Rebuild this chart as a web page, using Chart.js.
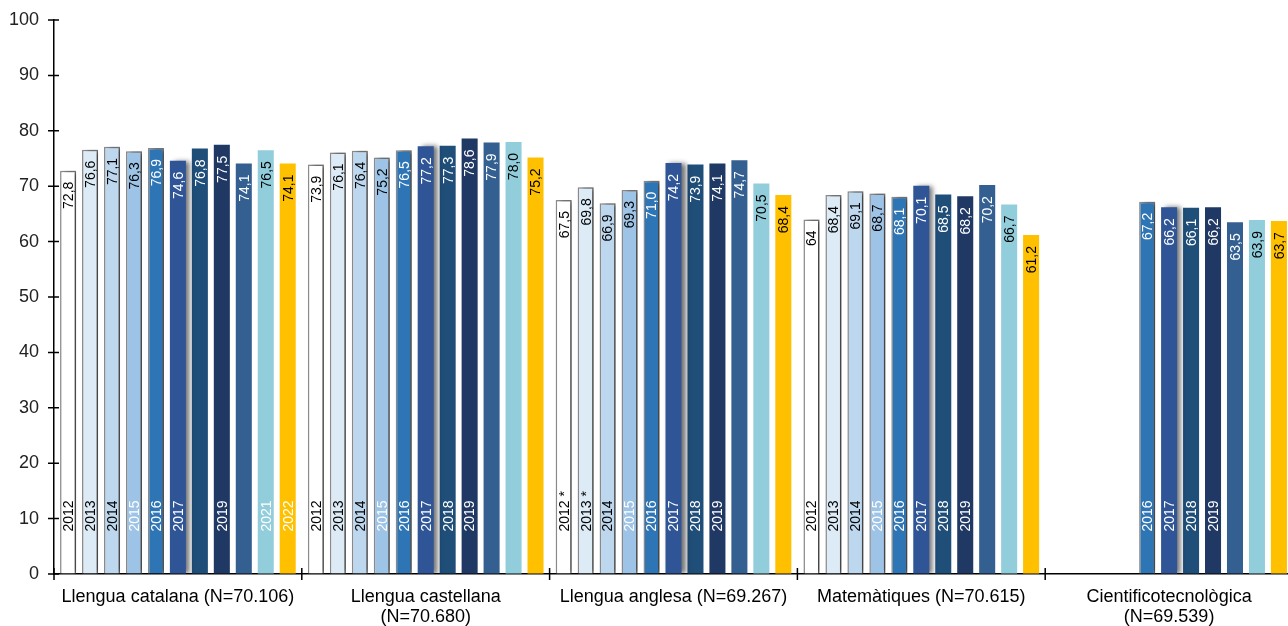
<!DOCTYPE html>
<html>
<head>
<meta charset="utf-8">
<script src="https://cdn.jsdelivr.net/npm/chart.js@4/dist/chart.umd.min.js"></script>
<style>
  html, body { margin: 0; padding: 0; background: #fff; overflow: hidden; }
  #wrap { width: 1293px; height: 626px; position: relative; }
</style>
</head>
<body>
<div id="wrap"><canvas id="c"></canvas></div>
<script>
// ---------- DATA ----------
const categories = [
  'Llengua catalana (N=70.106)',
  ['Llengua castellana', '(N=70.680)'],
  'Llengua anglesa (N=69.267)',
  'Matemàtiques (N=70.615)',
  ['Cientificotecnològica', '(N=69.539)']
];
const years = ['2012', '2013', '2014', '2015', '2016', '2017', '2018', '2019', '2020', '2021', '2022'];

const s2012 = [72.8, 73.9, 67.5, 64, null];
const s2013 = [76.6, 76.1, 69.8, 68.4, null];
const s2014 = [77.1, 76.4, 66.9, 69.1, null];
const s2015 = [76.3, 75.2, 69.3, 68.7, null];
const s2016 = [76.9, 76.5, 71.0, 68.1, 67.2];
const s2017 = [74.6, 77.2, 74.2, 70.1, 66.2];
const s2018 = [76.8, 77.3, 73.9, 68.5, 66.1];
const s2019 = [77.5, 78.6, 74.1, 68.2, 66.2];
const s2020 = [74.1, 77.9, 74.7, 70.2, 63.5];
const s2021 = [76.5, 78.0, 70.5, 66.7, 63.9];
const s2022 = [74.1, 75.2, 68.4, 61.2, 63.7];
const seriesValues = [s2012, s2013, s2014, s2015, s2016, s2017, s2018, s2019, s2020, s2021, s2022];

// year captions written at the foot of the bars, per category
const yearCaptions = [
  ['2012', '2013', '2014', '2015', '2016', '2017', '', '2019', '', '2021', '2022'],
  ['2012', '2013', '2014', '2015', '2016', '2017', '2018', '2019', '', '', ''],
  ['2012 *', '2013 *', '2014', '2015', '2016', '2017', '2018', '2019', '', '', ''],
  ['2012', '2013', '2014', '2015', '2016', '2017', '2018', '2019', '', '', ''],
  ['', '', '', '', '2016', '2017', '2018', '2019', '', '', '']
];
// value shown without decimals (category index, series index)
const integerLabels = [[3, 0]];

const yTicks = [0, 10, 20, 30, 40, 50, 60, 70, 80, 90, 100];

// ---------- STYLE ----------
const fills = ['#FFFFFF', '#DDEBF7', '#BDD7EE', '#9DC3E6', '#2E75B6', '#2F5597', '#1F4E79', '#203864', '#335F91', '#92CDDC', '#FFC000'];
const borders = ['#8C8C8C', '#8C8C8C', '#8C8C8C', '#8C8C8C', '#8C8C8C', null, null, null, null, null, null];
const valueColors = ['#000', '#000', '#000', '#000', '#fff', '#fff', '#fff', '#fff', '#fff', '#000', '#000'];
const yearColors = ['#000', '#000', '#000', '#fff', '#fff', '#fff', '#fff', '#fff', '#fff', '#fff', '#fff'];
const shadowed = [true, true, true, true, true, true, false, false, false, false, false];

const datasets = years.map((y, i) => ({
  label: y,
  data: seriesValues[i],
  backgroundColor: fills[i],
  borderColor: borders[i] || fills[i],
  borderWidth: borders[i] ? 1.5 : 0,
  categoryPercentage: 0.975,
  barPercentage: 0.73
}));

const shadowPlugin = {
  id: 'shadowPlugin',
  beforeDatasetDraw(chart, args) {
    const ctx = chart.ctx;
    ctx.save();
    if (shadowed[args.index]) {
      ctx.shadowColor = 'rgba(0,0,0,0.55)';
      ctx.shadowBlur = 5;
      ctx.shadowOffsetX = 4;
      ctx.shadowOffsetY = 0;
    }
  },
  afterDatasetDraw(chart) {
    chart.ctx.restore();
  }
};

function fmt(v, ci, si) {
  if (integerLabels.some(p => p[0] === ci && p[1] === si)) return String(Math.round(v));
  return v.toFixed(1).replace('.', ',');
}

const labelPlugin = {
  id: 'labelPlugin',
  afterDatasetsDraw(chart) {
    const ctx = chart.ctx;
    ctx.save();
    ctx.font = '14px "Liberation Sans", Arial, sans-serif';
    chart.data.datasets.forEach((ds, si) => {
      const meta = chart.getDatasetMeta(si);
      meta.data.forEach((bar, ci) => {
        const v = ds.data[ci];
        if (v === null || v === undefined) return;
        ctx.save();
        ctx.translate(bar.x + 1, bar.y + 11);
        ctx.rotate(-Math.PI / 2);
        ctx.textAlign = 'right';
        ctx.textBaseline = 'middle';
        ctx.fillStyle = valueColors[si];
        ctx.fillText(fmt(v, ci, si), 0, 0);
        ctx.restore();
        const cap = yearCaptions[ci][si];
        if (cap) {
          ctx.save();
          ctx.translate(bar.x + 1, bar.base - 42);
          ctx.rotate(-Math.PI / 2);
          ctx.textAlign = 'left';
          ctx.textBaseline = 'middle';
          ctx.fillStyle = yearColors[si];
          ctx.fillText(cap, 0, 0);
          ctx.restore();
        }
      });
    });
    ctx.restore();
  }
};

const tickPlugin = {
  id: 'tickPlugin',
  afterDraw(chart) {
    const ctx = chart.ctx;
    const ys = chart.scales.y, xs = chart.scales.x;
    const ax = chart.chartArea.left, ay = chart.chartArea.bottom;
    const step = xs.getPixelForValue(1) - xs.getPixelForValue(0);
    ctx.save();
    ctx.strokeStyle = '#000';
    ctx.lineWidth = 1.5;
    ctx.beginPath();
    yTicks.forEach(t => {
      const py = ys.getPixelForValue(t);
      ctx.moveTo(ax - 6, py);
      ctx.lineTo(ax + 5, py);
    });
    for (let i = 0; i <= categories.length; i++) {
      const px = xs.getPixelForValue(0) - step / 2 + i * step;
      ctx.moveTo(px, ay - 6);
      ctx.lineTo(px, ay + 6);
    }
    ctx.stroke();
    ctx.restore();
  }
};

new Chart(document.getElementById('c'), {
  type: 'bar',
  data: { labels: categories, datasets },
  plugins: [shadowPlugin, labelPlugin, tickPlugin],
  options: {
    responsive: true,
    maintainAspectRatio: false,
    animation: false,
    layout: { padding: { top: 20, right: 0, left: 0, bottom: 0 } },
    plugins: { legend: { display: false }, tooltip: { enabled: false } },
    scales: {
      x: {
        grid: { display: true, drawOnChartArea: false, drawTicks: false },
        border: { display: true, color: '#000', width: 1.5 },
        ticks: {
          color: '#000',
          font: { family: '"Liberation Sans", Arial, sans-serif', size: 18, lineHeight: 1.12 },
          padding: 13,
          maxRotation: 0,
          autoSkip: false
        },
        afterFit(scale) { scale.height = 52; scale.paddingLeft = 0; scale.paddingRight = 0; }
      },
      y: {
        min: 0, max: 100,
        afterBuildTicks(scale) { scale.ticks = yTicks.map(v => ({ value: v })); },
        grid: { display: true, drawOnChartArea: false, drawTicks: false },
        border: { display: true, color: '#000', width: 1.5 },
        ticks: {
          color: '#222',
          font: { family: '"Liberation Sans", Arial, sans-serif', size: 18 },
          padding: 15
        },
        afterFit(scale) { scale.width = 54; scale.paddingTop = 0; scale.paddingBottom = 0; }
      }
    }
  }
});
</script>
</body>
</html>
